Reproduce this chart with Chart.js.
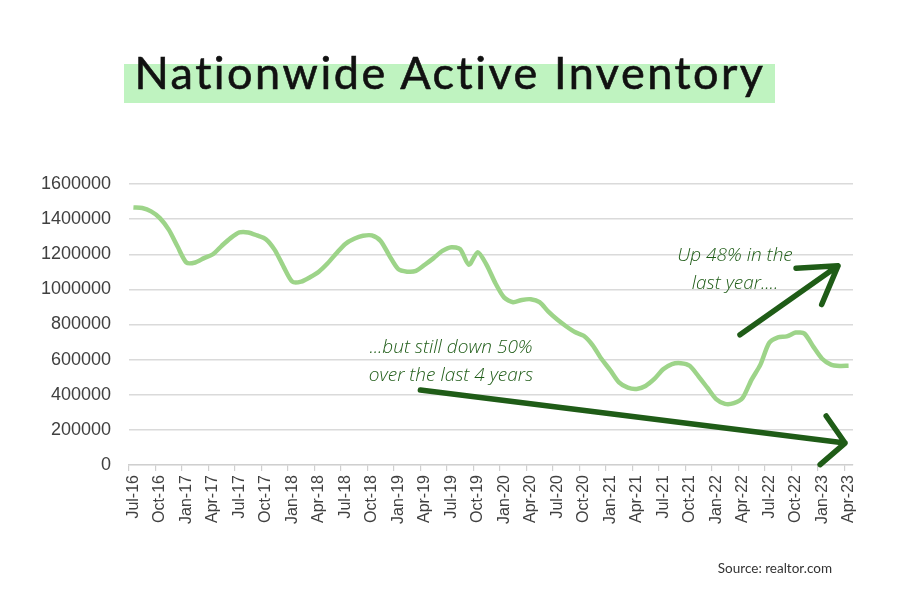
<!DOCTYPE html>
<html>
<head>
<meta charset="utf-8">
<script src="https://cdn.jsdelivr.net/npm/chart.js@4.4.0/dist/chart.umd.min.js"></script>
<style>
  html, body { margin: 0; padding: 0; background: #fff; }
  #wrap { position: relative; width: 900px; height: 600px; overflow: hidden; }
  #chart { position: absolute; left: 0; top: 0; }
  .title-box { position: absolute; left: 124px; top: 64px; width: 651px; height: 39px; background: #bff3c0; }
  .title { position: absolute; left: 0; top: 43px; width: 900px; text-align: center;
           font-family: Lato, sans-serif; font-size: 45px; line-height: 58px; color: #111;
           letter-spacing: 2.5px; -webkit-text-stroke: 0.6px #111; }
  .note { position: absolute; text-align: center; color: #1f5c17;
          font-family: "Open Sans", sans-serif; font-style: italic; font-weight: 300;
          font-size: 19px; line-height: 28px; white-space: nowrap; }
  .source { position: absolute; right: 68px; top: 560px; font-family: Lato, sans-serif;
            font-size: 13.5px; color: #333; }
</style>
</head>
<body>
<div id="wrap">
  <canvas id="chart" width="900" height="600"></canvas>
  <div class="title-box"></div>
  <div class="title">Nationwide Active Inventory</div>
  <div class="note" style="left:350px; width:202px; top:332px;">...but still down 50%<br>over the last 4 years</div>
  <div class="note" style="left:655px; width:160px; top:240px;">Up 48% in the<br>last year....</div>
  <div class="source">Source: realtor.com</div>
</div>
<script>
// months Jul-16 .. Apr-23
const monthNames = ['Jan', 'Feb', 'Mar', 'Apr', 'May', 'Jun', 'Jul', 'Aug', 'Sep', 'Oct', 'Nov', 'Dec'];
const labels = [];
for (let y = 2016, m = 6; y < 2023 || m <= 3; m++) {
    if (m > 11) { m = 0; y++; }
    labels.push(monthNames[m] + '-' + String(y).slice(2));
    if (y === 2023 && m === 3) break;
}
const tickEvery = 3;

// active listings
const inventory = [
    1466000, 1463000, 1444000, 1406000, 1340000, 1244000, 1153000, 1153000, 1178000, 1200000,
    1248000, 1292000, 1324000, 1324000, 1307000, 1286000, 1225000, 1130000, 1044000, 1044000,
    1069000, 1101000, 1149000, 1206000, 1259000, 1288000, 1305000, 1307000, 1276000, 1191000,
    1115000, 1101000, 1105000, 1140000, 1178000, 1219000, 1240000, 1229000, 1140000, 1212000,
    1140000, 1035000, 953000, 927000, 940000, 944000, 927000, 873000, 828000, 790000,
    757000, 736000, 683000, 605000, 540000, 470000, 440000, 433000, 450000, 490000,
    545000, 575000, 580000, 565000, 505000, 440000, 375000, 348000, 352000, 382000,
    485000, 570000, 695000, 727000, 732000, 754000, 748000, 674000, 605000, 572000,
    564000, 565000
];
const yTicks = [0, 200000, 400000, 600000, 800000, 1000000, 1200000, 1400000, 1600000];

// hand drawn arrows, in (month index, value) space
const arrows = [
    { from: [68.7, 741000], to: [79.8, 1134000], head: 42, spread: 32 },
    { from: [32.5, 427000], to: [80.6, 125000], head: 33, spread: 48 }
];

const arrowPlugin = {
    id: 'arrows',
    afterDatasetsDraw(chart) {
        const { ctx, scales: { x, y } } = chart;
        ctx.save();
        ctx.strokeStyle = '#1f5c17';
        ctx.lineWidth = 5.5;
        ctx.lineCap = 'round';
        ctx.lineJoin = 'round';
        arrows.forEach(a => {
            const x1 = x.getPixelForValue(a.from[0]), y1 = y.getPixelForValue(a.from[1]);
            const x2 = x.getPixelForValue(a.to[0]), y2 = y.getPixelForValue(a.to[1]);
            const ang = Math.atan2(y2 - y1, x2 - x1);
            const sp = a.spread * Math.PI / 180;
            ctx.beginPath();
            ctx.moveTo(x1, y1);
            ctx.lineTo(x2, y2);
            ctx.moveTo(x2 - a.head * Math.cos(ang - sp), y2 - a.head * Math.sin(ang - sp));
            ctx.lineTo(x2, y2);
            ctx.lineTo(x2 - a.head * Math.cos(ang + sp), y2 - a.head * Math.sin(ang + sp));
            ctx.stroke();
        });
        ctx.restore();
    }
};

const ctx = document.getElementById('chart').getContext('2d');
const chart = new Chart(ctx, {
    type: 'line',
    data: {
        labels: labels,
        datasets: [{
            data: inventory,
            borderColor: '#9dd489',
            borderWidth: 4.5,
            pointRadius: 0,
            tension: 0.25,
            fill: false
        }]
    },
    options: {
        responsive: false,
        animation: false,
        layout: { padding: { top: 184, right: 47, bottom: 0, left: 0 } },
        plugins: { legend: { display: false }, tooltip: { enabled: false } },
        scales: {
            x: {
                offset: true,
                afterFit: s => { s.height = 135; },
                grid: {
                    offset: true,
                    drawOnChartArea: false,
                    drawTicks: true,
                    tickLength: 6,
                    lineWidth: 1.2,
                    color: c => (c.index % tickEvery === 0 && c.index < labels.length) ? '#cfcfcf' : 'rgba(0,0,0,0)'
                },
                border: { display: true, color: '#cfcfcf', width: 1.2 },
                ticks: {
                    autoSkip: false,
                    maxRotation: 90,
                    minRotation: 90,
                    padding: 4,
                    color: '#404040',
                    font: { family: 'Liberation Sans', size: 16 },
                    callback: function (v, i) { return i % tickEvery === 0 ? labels[i] : ''; }
                }
            },
            y: {
                min: 0,
                max: 1600000,
                afterFit: s => { s.width = 129; },
                afterBuildTicks: s => { s.ticks = yTicks.map(v => ({ value: v })); },
                grid: { color: '#dadada', lineWidth: 1.5, drawTicks: false },
                border: { display: false },
                ticks: {
                    padding: 18,
                    color: '#404040',
                    font: { family: 'Liberation Sans', size: 18 },
                    callback: v => String(v)
                }
            }
        }
    },
    plugins: [arrowPlugin]
});
</script>
</body>
</html>
